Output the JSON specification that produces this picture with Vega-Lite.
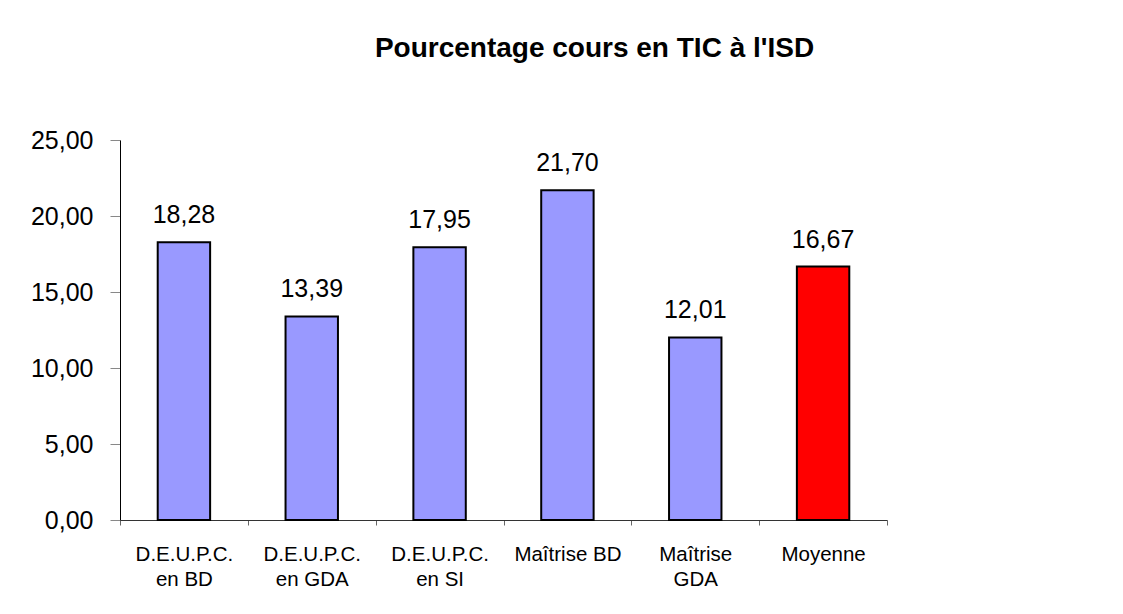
{
  "$schema": "https://vega.github.io/schema/vega-lite/v6.json",
  "width": 767,
  "height": 380,
  "autosize": {"type": "none"},
  "padding": {"left": 120, "top": 140, "right": 236, "bottom": 94},
  "background": "white",
  "config": {
    "locale": {"number": {"decimal": ",", "thousands": " ", "grouping": [3], "currency": ["", " €"]}},
    "view": {"stroke": null},
    "font": "Liberation Sans"
  },
  "title": {
    "text": "Pourcentage cours en TIC à l'ISD",
    "font": "Liberation Sans",
    "fontSize": 28,
    "fontWeight": "bold",
    "color": "black",
    "anchor": "middle",
    "frame": "group",
    "dx": 91,
    "baseline": "alphabetic",
    "offset": 43
  },
  "data": {
    "values": [
      {"filiere": "D.E.U.P.C.\nen BD", "pct": 18.28},
      {"filiere": "D.E.U.P.C.\nen GDA", "pct": 13.39},
      {"filiere": "D.E.U.P.C.\nen SI", "pct": 17.95},
      {"filiere": "Maîtrise BD", "pct": 21.70},
      {"filiere": "Maîtrise\nGDA", "pct": 12.01},
      {"filiere": "Moyenne", "pct": 16.67}
    ]
  },
  "encoding": {
    "x": {
      "field": "filiere",
      "type": "nominal",
      "sort": null,
      "scale": {"paddingInner": 0, "paddingOuter": 0},
      "axis": {
        "title": null,
        "labelAngle": 0,
        "labelExpr": "split(datum.label, '\\n')",
        "labelFont": "Liberation Sans",
        "labelFontSize": 20.5,
        "labelColor": "black",
        "labelLineHeight": 25,
        "labelBaseline": "top",
        "labelPadding": 19,
        "tickBand": "extent",
        "tickSize": 5,
        "tickColor": "#666666",
        "domainColor": "#333333",
        "labelLimit": 200
      }
    },
    "y": {
      "field": "pct",
      "type": "quantitative",
      "scale": {"domain": [0, 25], "nice": false},
      "axis": {
        "title": null,
        "values": [0, 5, 10, 15, 20, 25],
        "format": ".2f",
        "grid": false,
        "labelFont": "Liberation Sans",
        "labelFontSize": 25,
        "labelColor": "black",
        "labelPadding": 17,
        "tickSize": 10,
        "tickColor": "#888888",
        "domainColor": "black"
      }
    }
  },
  "layer": [
    {
      "mark": {"type": "bar", "width": {"band": 0.41}, "stroke": "black", "strokeWidth": 2},
      "encoding": {
        "color": {
          "condition": {"test": "datum.filiere === 'Moyenne'", "value": "#FF0000"},
          "value": "#9999FF"
        }
      }
    },
    {
      "mark": {"type": "text", "baseline": "alphabetic", "dy": -19, "fontSize": 25, "font": "Liberation Sans", "color": "black"},
      "encoding": {
        "text": {"field": "pct", "type": "quantitative", "format": ".2f"}
      }
    }
  ]
}
